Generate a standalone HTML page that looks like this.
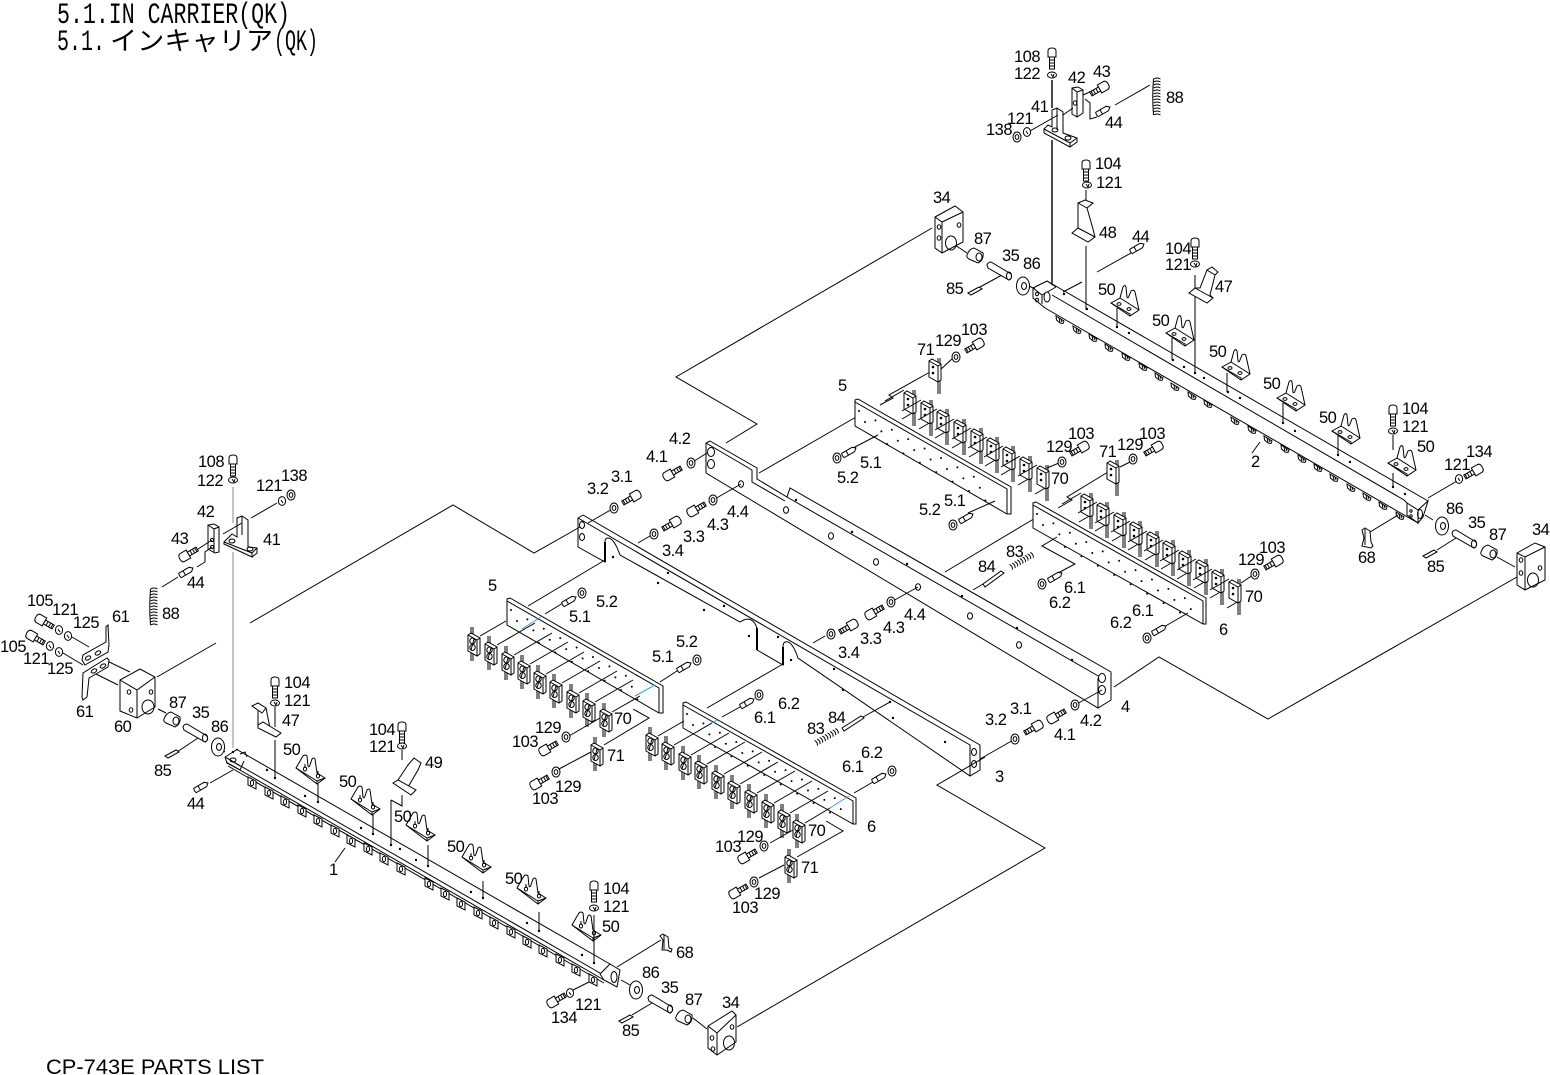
<!DOCTYPE html>
<html lang="en"><head><meta charset="utf-8"><title>5.1 IN CARRIER (QK)</title>
<style>
html,body{margin:0;padding:0;background:#fff}
svg{display:block}
.l{stroke:#000;fill:none;stroke-width:1}
.w{fill:#fff}
text{font-family:"Liberation Sans",sans-serif;font-size:16.5px;letter-spacing:-.5px;fill:#000;stroke:none}
.t{font-family:"Liberation Mono",monospace;font-size:30px;letter-spacing:0}
.k{font-family:"Noto Sans CJK JP",sans-serif;font-size:26px;letter-spacing:0}
.f{font-size:21px;letter-spacing:0}
.d{fill:none;stroke:#000;stroke-width:2;stroke-linecap:round;stroke-dasharray:0 18.9}
.g{fill:#000;stroke:none}
</style></head><body>
<svg width="1550" height="1075" viewBox="0 0 1550 1075" xmlns="http://www.w3.org/2000/svg">
<defs>
<g id="bolt"><path class="w" d="M-3-4.5Q-6-4.5-6 0Q-6 4.5-3 4.5H4V-4.5Z"/><path class="w" d="M4-2.3H14V2.3H4Z"/><path d="M7-2.3V2.3M10-2.3V2.3M12.5-2.3V2.3"/></g>
<g id="vbolt"><path class="w" d="M-4 2Q-4-1 0-1Q4-1 4 2V8H-4Z"/><path class="w" d="M-2.5 8H2.5V20H-2.5Z"/><path d="M-2.5 11H2.5M-2.5 14H2.5M-2.5 17H2.5"/></g>
<g id="stud"><path class="w" d="M-7-2.5H5L8 0L5 2.5H-7Q-8 0-7-2.5Z"/><path d="M-2-2.5V2.5"/></g>
<g id="nut"><ellipse class="w" cx="0" cy="0" rx="4" ry="5"/><ellipse cx="0" cy="0" rx="1.8" ry="2.4"/></g>
<g id="wash"><ellipse class="w" cx="0" cy="0" rx="3.6" ry="4.4"/><path d="M-1-1L1 2"/></g>
<g id="vwash"><ellipse class="w" cx="0" cy="0" rx="4.5" ry="3"/><path d="M-1-1L1 2L2-1"/></g>
<g id="b50"><path class="w" d="M0 0Q4-7 7-12Q9-14 11-12L12-2Q13 0 14-3L16-9Q18-11 19-9L21 5L29 10L21 16Z"/><path d="M0 0L21 13V16M21 13L29 10"/><ellipse cx="9" cy="1" rx="1.6" ry="2"/><ellipse cx="22" cy="8" rx="1.6" ry="2"/><path d="M9-4V0M22 3V7"/></g>
<g id="b50r"><path class="w" d="M0 0L9-5L12-16Q14-19 15-16L16-6Q17-4 18-7L20-12Q23-14 24-11L28 7L19 13Z"/><path d="M9-5L28 7M0 0L19 11V13"/><ellipse cx="8" cy="1" rx="2" ry="1.4"/><ellipse cx="18" cy="6" rx="2" ry="1.4"/></g>
<g id="c1"><path d="M3-8V0M5-8V-1M3 16V26M5 17V26"/><path class="w" d="M0 0L3-2L12 3V19L9 21L0 16Z"/><path d="M0 0L9 5L12 3M9 5V21"/><ellipse cx="4.5" cy="6" rx="2.7" ry="3"/><ellipse cx="4.5" cy="12.5" rx="2.7" ry="3"/><path d="M3 15L6 4"/></g>
<g id="c2"><path d="M-19 8L0-3M-2 26L10 19"/><path d="M9-3V3M11-3V3M9 20V33M11 20V33"/><path class="w" d="M0 0L3-2L12 3V19L9 21L0 16Z"/><path d="M0 0L9 5L12 3M9 5V21"/><circle class="g" cx="4" cy="6" r="1.3"/><circle class="g" cx="4" cy="12" r="1.3"/></g>
<g id="c3"><path d="M9-3V3M11-3V3M9 20V33M11 20V33"/><path class="w" d="M0 0L3-2L12 3V19L9 21L0 16Z"/><path d="M0 0L9 5L12 3M9 5V21"/><circle class="g" cx="4" cy="6" r="1.3"/><circle class="g" cx="4" cy="12" r="1.3"/></g>
<g id="p5"><path class="w" d="M0 0L3-1L156 87V114H152L0 26Z"/><path d="M0 2L152 89V114"/><path class="d" d="M4 11L135 86"/><path class="d" d="M10 22L141 97"/><path class="d" d="M32 44L135 103"/></g>
<g id="p6"><path class="w" d="M0 0L3-1L173 95V121H170L0 25Z"/><path d="M0 2L170 98V121"/><path class="d" d="M4 11L155 97"/><path class="d" d="M10 22L161 108"/><path class="d" d="M32 44L155 114"/></g>
<g id="t1"><path class="w" d="M-4-6L4-2V6L-4 2Z"/><ellipse cx="0" cy="0" rx="1.6" ry="2.6"/></g>
<g id="t2"><path class="w" d="M-4-3L4 2L3 4.5L0 4L-3.5 1Z"/><path d="M-1-1L0 3M1 0L2 3"/></g>
<g id="sp"><path d="M-3.5 0Q0-2 3.5 0M-3.5 3Q0 1 3.5 3M-3.5 6Q0 4 3.5 6M-3.5 9Q0 7 3.5 9M-3.5 12Q0 10 3.5 12M-3.5 15Q0 13 3.5 15M-3.5 18Q0 16 3.5 18M-3.5 21Q0 19 3.5 21M-3.5 24Q0 22 3.5 24M-3.5 27Q0 25 3.5 27M-3.5 30Q0 28 3.5 30M-3.5 33Q0 31 3.5 33M-3.5 36Q0 34 3.5 36"/><path d="M-3.5 0Q-5 18-3.5 36"/></g>
<g id="sph"><path d="M0-3Q2 0 0 3M3-3Q5 0 3 3M6-3Q8 0 6 3M9-3Q11 0 9 3M12-3Q14 0 12 3M15-3Q17 0 15 3M18-3Q20 0 18 3M21-3Q23 0 21 3M24-3Q26 0 24 3"/></g>
<g id="b87"><path class="w" d="M1 7Q3 1 8 0L17 5Q18 12 12 15L3 11Q0 9 1 7Z"/><ellipse cx="13" cy="9" rx="3" ry="4"/></g>
<g id="p35"><path class="w" d="M0 3Q1 0 4 0L24 12Q26 16 22 18L1 6Z"/><ellipse cx="22" cy="14" rx="2.5" ry="4"/></g>
<g id="p85"><path class="w" d="M0 6L11 0L14 2L3 8Z"/></g>
<g id="w86"><ellipse class="w" cx="0" cy="0" rx="6.5" ry="9"/><ellipse cx="1" cy="0" rx="2.5" ry="3.5"/></g>
</defs>

<g class="l">
<!-- rail 4 -->
<path d="M710 441L757 468V479L787 497L790 488L1111 672V700L1098 708L706 473V443L710 441"/>
<path d="M706 443L752 470V482L785 501M787 497L1100 677M1098 678V708"/>
<g class="w"><ellipse cx="711" cy="452" rx="3.5" ry="4.5"/><ellipse cx="711" cy="464" rx="3.5" ry="4.5"/><ellipse cx="1102" cy="678" rx="3.5" ry="4.5"/><ellipse cx="1102" cy="690" rx="3.5" ry="4.5"/></g>
<ellipse cx="741" cy="484" rx="2.5" ry="3.2"/><ellipse cx="786" cy="510" rx="2.5" ry="3.2"/><ellipse cx="831" cy="536" rx="2.5" ry="3.2"/><ellipse cx="876" cy="562" rx="2.5" ry="3.2"/><ellipse cx="918" cy="587" rx="2.5" ry="3.2"/><ellipse cx="970" cy="616" rx="2.5" ry="3.2"/><ellipse cx="1019" cy="645" rx="2.5" ry="3.2"/>
<g class="g"><circle cx="796" cy="500" r="1.2"/><circle cx="852" cy="532" r="1.2"/><circle cx="907" cy="564" r="1.2"/><circle cx="962" cy="596" r="1.2"/><circle cx="1017" cy="628" r="1.2"/><circle cx="1072" cy="660" r="1.2"/></g>
<!-- rail 3 -->
<path d="M583 515L980 745V770L970 776L798 658Q792 640 785 642Q783 643 783 647V665L757 650V628Q752 614 740 622L620 555Q614 538 608 538Q605 538 605 542V562L578 547V518L583 515"/>
<path d="M578 518L970 745V776"/>
<path stroke-width="2" d="M605 542V562M757 628V650M783 647V665"/>
<ellipse cx="582" cy="525" rx="2.5" ry="3.5"/><ellipse cx="582" cy="537" rx="2.5" ry="3.5"/><ellipse cx="974" cy="752" rx="2.5" ry="3.5"/><ellipse cx="974" cy="764" rx="2.5" ry="3.5"/>
<g class="g"><circle cx="613" cy="557" r="1.2"/><circle cx="658" cy="583" r="1.2"/><circle cx="668" cy="573" r="1.2"/><circle cx="704" cy="610" r="1.2"/><circle cx="724" cy="606" r="1.2"/><circle cx="749" cy="636" r="1.2"/><circle cx="778" cy="637" r="1.2"/><circle cx="791" cy="660" r="1.2"/><circle cx="834" cy="669" r="1.2"/><circle cx="843" cy="690" r="1.2"/><circle cx="890" cy="702" r="1.2"/><circle cx="893" cy="718" r="1.2"/><circle cx="945" cy="742" r="1.2"/></g>

<!-- assembly polylines -->
<path d="M932 228L676 377L757 424L726 443"/>
<path d="M759 473L863 413"/>
<path d="M945 572L1037 517"/>
<path d="M1114 687L1159 657L1268 719L1517 577"/>
<path d="M250 623L453 505L534 553L580 527"/>
<path d="M216 643L157 677"/>
<path d="M737 1027L1045 848L937 785L985 757"/>
<path d="M528 606L605 560M707 708L783 664"/>
<!-- plates -->
<use href="#p5" x="507" y="599"/>
<use href="#p6" x="683" y="703"/>
<use href="#p5" x="855" y="400"/>
<use href="#p6" x="1033" y="503"/>
<!-- blue marks -->
<path style="stroke:#3a9ad9" d="M522 629L541 617M635 696L655 685M698 731L717 720M830 808L849 796"/>

<!-- lower-left group leaders -->
<path d="M480 636L506 621M497 645L535 623M514 655L552 633M530 664L568 642M546 674L584 652M562 683L600 661M579 693L617 671M595 702L633 680M612 712L640 696"/>
<path d="M658 736L684 721M674 745L712 723M691 755L729 733M707 764L745 742M724 774L762 752M740 784L778 762M757 793L795 771M774 803L812 781M790 813L828 791M805 823L830 808"/>
<path d="M633 709L649 718L604 745M826 821L843 831L797 857"/>
<path d="M569 736L600 718M559 769L591 752M770 843L793 830M759 878L784 865"/>
<path d="M545 614L563 603M660 682L680 669M722 717L740 707M854 793L873 782"/>
<path d="M853 448L878 435M968 513L995 501M1058 573L1075 564L1042 546L1057 537M1162 628L1188 613"/>
<path d="M880 405L893 398L889 395L930 372M1058 508L1072 500L1067 497L1108 472"/>
<path d="M940 370L953 358M1120 467L1130 462M1047 468L1059 463M1241 583L1253 575"/>
<path d="M973 590L983 584M863 717L890 702"/>
<path d="M713 500L741 484M891 602L918 587M825 636L813 643M650 536L638 543M614 508L588 523M691 463L707 453M1015 739L980 759M1075 705L1102 690"/>
</g>

<g class="l">
<!-- blocks 70/71 -->
<use href="#c1" x="468" y="635"/><use href="#c1" x="485" y="644"/><use href="#c1" x="502" y="654"/><use href="#c1" x="518" y="663"/><use href="#c1" x="534" y="673"/><use href="#c1" x="550" y="682"/><use href="#c1" x="567" y="692"/><use href="#c1" x="583" y="701"/><use href="#c1" x="600" y="711"/><use href="#c1" x="591" y="745"/>
<use href="#c1" x="646" y="735"/><use href="#c1" x="662" y="744"/><use href="#c1" x="679" y="754"/><use href="#c1" x="695" y="763"/><use href="#c1" x="712" y="773"/><use href="#c1" x="728" y="783"/><use href="#c1" x="745" y="792"/><use href="#c1" x="762" y="802"/><use href="#c1" x="778" y="812"/><use href="#c1" x="793" y="822"/><use href="#c1" x="785" y="857"/>
<use href="#c2" x="904" y="393"/><use href="#c2" x="921" y="403"/><use href="#c2" x="937" y="412"/><use href="#c2" x="954" y="422"/><use href="#c2" x="971" y="431"/><use href="#c2" x="987" y="440"/><use href="#c2" x="1003" y="449"/><use href="#c2" x="1020" y="459"/><use href="#c2" x="1037" y="468"/><use href="#c3" x="929" y="361"/>
<use href="#c2" x="1081" y="496"/><use href="#c2" x="1097" y="505"/><use href="#c2" x="1114" y="515"/><use href="#c2" x="1130" y="524"/><use href="#c2" x="1147" y="534"/><use href="#c2" x="1163" y="543"/><use href="#c2" x="1179" y="553"/><use href="#c2" x="1196" y="562"/><use href="#c2" x="1212" y="572"/><use href="#c2" x="1229" y="582"/><use href="#c3" x="1107" y="463"/>

<!-- rail 1 -->
<path d="M236 749L610 964L620 970L617 987L604 980L600 974L610 964"/>
<path d="M225 757L600 973M226 762L604 980M228 766L604 983"/>
<path d="M225 757L238 749M247 757L245 752L240 754M225 757L227 763L240 770M227 758L240 766M244 761L240 770"/><ellipse cx="233" cy="760" rx="3" ry="2"/>
<ellipse class="w" cx="614" cy="977" rx="3" ry="5.5"/>
<g class="g"><circle cx="233" cy="752" r="1.2"/><circle cx="267" cy="770" r="1.2"/><circle cx="275" cy="778" r="1.2"/><circle cx="305" cy="796" r="1.2"/><circle cx="318" cy="802" r="1.2"/><circle cx="361" cy="828" r="1.2"/><circle cx="373" cy="834" r="1.2"/><circle cx="391" cy="845" r="1.2"/><circle cx="400" cy="849" r="1.2"/><circle cx="416" cy="860" r="1.2"/><circle cx="428" cy="866" r="1.2"/><circle cx="471" cy="892" r="1.2"/><circle cx="483" cy="898" r="1.2"/><circle cx="527" cy="923" r="1.2"/><circle cx="539" cy="931" r="1.2"/><circle cx="582" cy="955" r="1.2"/><circle cx="594" cy="963" r="1.2"/></g>
<use href="#t1" x="252" y="783"/><use href="#t1" x="269" y="793"/><use href="#t1" x="285" y="802"/><use href="#t1" x="302" y="811"/><use href="#t1" x="318" y="821"/><use href="#t1" x="335" y="831"/><use href="#t1" x="351" y="841"/><use href="#t1" x="368" y="849"/><use href="#t1" x="384" y="859"/><use href="#t1" x="401" y="869"/><use href="#t1" x="429" y="884"/><use href="#t1" x="445" y="894"/><use href="#t1" x="461" y="904"/><use href="#t1" x="478" y="913"/><use href="#t1" x="494" y="923"/><use href="#t1" x="511" y="932"/><use href="#t1" x="527" y="942"/><use href="#t1" x="543" y="951"/><use href="#t1" x="560" y="960"/><use href="#t1" x="576" y="970"/><use href="#t1" x="593" y="980"/>
<path d="M345 848L335 862"/>
<!-- brackets on rail 1 -->
<path d="M275 740V778M318 782V802M373 813V834M428 845V866M483 881V898M539 912V931M594 942V963M391 800V845M391 800L402 806V795"/>
<use href="#b50" x="296" y="768"/><use href="#b50" x="351" y="799"/><use href="#b50" x="406" y="825"/><use href="#b50" x="462" y="857"/><use href="#b50" x="517" y="888"/><use href="#b50" x="572" y="925"/>
<path class="w" d="M252 706L258 703L266 708L262 713Z"/><path d="M258 711V725M266 708L270 728"/><path class="w" d="M258 725L263 722L281 733L276 737L258 728Z"/>
<path d="M275 707V727M402 750V760M594 915V942"/>
<path class="w" d="M408 765L414 758L421 763L418 770L408 787H399L398 780Z"/><path class="w" d="M393 783L398 780L416 790L411 795Z"/>
<use href="#vbolt" x="275" y="678"/><use href="#vwash" x="275" y="703"/><use href="#vbolt" x="402" y="723"/><use href="#vwash" x="402" y="746"/><use href="#vbolt" x="594" y="882"/><use href="#vwash" x="594" y="908"/>

<!-- rail 2 -->
<path d="M1047 281L1428 501M1052 295L1404 500L1407 503M1045 308L1418 523"/>
<path d="M1033 288L1047 281L1056 287M1033 288L1042 295V304M1033 288V298L1045 308M1042 295L1056 287"/>
<ellipse class="w" cx="1047" cy="297" rx="3" ry="5"/><ellipse cx="1037" cy="294" rx="1.5" ry="1.8"/><ellipse cx="1037" cy="300" rx="1.5" ry="1.8"/>
<path class="w" d="M1407 503L1418 510V523L1407 515Z"/><path class="w" d="M1418 510L1428 501L1423 517L1418 523Z"/><ellipse cx="1420" cy="514" rx="2.5" ry="4.5"/><circle cx="1411" cy="511" r="1.2"/><circle cx="1411" cy="516" r="1.2"/>
<g class="g"><circle cx="1064" cy="294" r="1.2"/><circle cx="1087" cy="309" r="1.2"/><circle cx="1117" cy="327" r="1.2"/><circle cx="1129" cy="333" r="1.2"/><circle cx="1173" cy="360" r="1.2"/><circle cx="1184" cy="367" r="1.2"/><circle cx="1195" cy="373" r="1.2"/><circle cx="1204" cy="378" r="1.2"/><circle cx="1228" cy="392" r="1.2"/><circle cx="1240" cy="398" r="1.2"/><circle cx="1283" cy="423" r="1.2"/><circle cx="1295" cy="431" r="1.2"/><circle cx="1338" cy="455" r="1.2"/><circle cx="1350" cy="462" r="1.2"/><circle cx="1393" cy="487" r="1.2"/><circle cx="1405" cy="494" r="1.2"/></g>
<use href="#t2" x="1060" y="319"/><use href="#t2" x="1077" y="329"/><use href="#t2" x="1093" y="337"/><use href="#t2" x="1109" y="347"/><use href="#t2" x="1126" y="356"/><use href="#t2" x="1143" y="366"/><use href="#t2" x="1159" y="376"/><use href="#t2" x="1175" y="386"/><use href="#t2" x="1192" y="395"/><use href="#t2" x="1208" y="403"/><use href="#t2" x="1235" y="420"/><use href="#t2" x="1252" y="429"/><use href="#t2" x="1268" y="439"/><use href="#t2" x="1285" y="448"/><use href="#t2" x="1302" y="458"/><use href="#t2" x="1318" y="467"/><use href="#t2" x="1334" y="477"/><use href="#t2" x="1351" y="487"/><use href="#t2" x="1367" y="496"/><use href="#t2" x="1383" y="505"/><use href="#t2" x="1400" y="515"/>
<path d="M1260 442L1252 453"/>
<!-- brackets on rail 2 -->
<path d="M1117 308V328M1172 338V360M1195 275V373M1227 373V392M1283 403V423M1338 435V455M1393 435V450M1393 473V487M1086 190V240M1086 246V310"/>
<path stroke-width="1.4" d="M1052 80V108M1052 140V285"/>
<use href="#b50r" x="1111" y="303"/><use href="#b50r" x="1166" y="333"/><use href="#b50r" x="1222" y="367"/><use href="#b50r" x="1277" y="398"/><use href="#b50r" x="1332" y="431"/><use href="#b50r" x="1388" y="463"/>
<path class="w" d="M1189 293L1195 288L1200 288L1207 270L1212 267L1218 272L1215 275L1210 295L1213 298L1207 303Z"/><path d="M1195 288L1213 298M1207 270L1215 275"/>
<use href="#vbolt" x="1195" y="239"/><use href="#vwash" x="1195" y="264"/><use href="#vbolt" x="1393" y="406"/><use href="#vwash" x="1393" y="431"/>
<!-- 48 -->
<path class="w" d="M1078 203L1085 200L1093 203L1087 208L1093 229L1095 237L1088 242L1072 233L1078 228Z"/><path d="M1078 203L1087 208M1078 228L1095 237"/>
<use href="#vbolt" x="1086" y="161"/><use href="#vwash" x="1087" y="185"/>
<path d="M1063 292L1082 282M1131 253L1097 272"/>
<use href="#stud" transform="translate(1137 248) rotate(-30)"/>

<!-- top assembly -->
<use href="#vbolt" x="1052" y="49"/><use href="#vwash" x="1052" y="75"/>
<path class="w" d="M1044 129L1048 125L1052 127V110L1057 108L1063 112V133L1077 138V142L1070 147L1044 133Z"/><path d="M1057 108L1057 130M1044 129L1070 143L1077 138M1070 143V147"/><ellipse cx="1055" cy="130" rx="3" ry="2"/><ellipse cx="1068" cy="138" rx="3" ry="2"/>
<path class="w" d="M1072 88L1078 87L1083 90V113L1077 117L1072 114Z"/><path d="M1072 88L1077 92V117M1077 92L1083 90"/><ellipse cx="1075" cy="103" rx="1.7" ry="2.2"/>
<path d="M1030 131L1058 115M1063 115L1073 108M1085 99L1090 103V119L1097 117M1115 105L1150 85M1083 95L1094 90"/>
<use href="#bolt" transform="translate(1103 87) rotate(150)"/>
<use href="#stud" transform="translate(1103 111) rotate(-30)"/>
<use href="#sp" x="1157" y="79"/>
<use href="#wash" x="1027" y="132"/><use href="#nut" x="1017" y="137"/>
<!-- left assembly top -->
<path style="stroke:#888" d="M233 487V523M233 552V748"/>
<use href="#vbolt" x="233" y="456"/><use href="#vwash" x="233" y="480"/>
<path class="w" d="M224 542L232 534L237 537V518L242 516L248 520V547L257 548V553L252 557L224 544Z"/><path d="M242 516L242 535M224 542L252 553L257 548M252 553V557"/><ellipse cx="232" cy="541" rx="3" ry="2"/><ellipse cx="250" cy="549" rx="3" ry="2"/>
<path class="w" d="M208 525L214 524L219 527V552L215 553L208 549Z"/><path d="M208 525L214 529V553M214 529L219 527"/><circle cx="212" cy="540" r="1.6"/><circle cx="212" cy="547" r="1.6"/>
<path d="M223 534L242 523M251 518L277 503M195 551L212 540M197 567L205 562V552L212 547M162 587L178 577"/>
<use href="#bolt" transform="translate(185 556) rotate(-30)"/>
<use href="#stud" transform="translate(186 572) rotate(-30)"/>
<use href="#sp" x="154" y="589"/>
<use href="#wash" x="282" y="501"/><use href="#nut" x="291" y="495"/>
<!-- 60/61 -->
<path d="M105 660L130 672M94 673L118 685M72 637L89 647M63 653L83 665"/>
<path class="w" d="M106 627L108 625L109 645L108 652L85 665L82 660L83 655L106 642Z"/><ellipse cx="88" cy="658" rx="3" ry="1.8" transform="rotate(-30 88 658)"/><ellipse cx="98" cy="653" rx="3" ry="1.8" transform="rotate(-30 98 653)"/>
<path class="w" d="M83 673L107 658L109 660L108 667L89 678L87 697L83 700L82 697Z"/><ellipse cx="94" cy="671" rx="3" ry="1.8" transform="rotate(-30 94 671)"/><ellipse cx="103" cy="666" rx="3" ry="1.8" transform="rotate(-30 103 666)"/>
<path class="w" d="M120 680L140 669L155 677V707L137 718L120 711Z"/><path d="M120 680L137 690L155 677M137 690V718"/><ellipse cx="148" cy="707" rx="6" ry="7"/><ellipse cx="129" cy="692" rx="1.8" ry="2.2"/><ellipse cx="131" cy="710" rx="1.8" ry="2.2"/><ellipse cx="151" cy="692" rx="1.8" ry="2.2"/>
<use href="#bolt" transform="translate(41 620) rotate(30)"/><use href="#bolt" transform="translate(32 636) rotate(30)"/>
<use href="#wash" x="59" y="630"/><use href="#wash" x="68" y="636"/><use href="#wash" x="50" y="646"/><use href="#wash" x="59" y="652"/>
<!-- shafts -->
<path d="M158 709L166 713M177 752L198 738M212 745L225 752M210 783L233 770"/>
<use href="#b87" x="163" y="712"/><use href="#p35" x="183" y="724"/><use href="#w86" x="218" y="747"/><use href="#p85" x="165" y="750"/>
<use href="#stud" transform="translate(201 787) rotate(-30)"/>
<!-- lower right end -->
<path d="M693 1018L707 1029M621 980L630 985M632 1015L652 1003M573 990L589 982M617 967L661 940"/>
<use href="#w86" x="636" y="990"/><use href="#p35" x="648" y="995"/><use href="#b87" x="675" y="1010"/><use href="#p85" x="619" y="1015"/>
<path class="w" d="M708 1026L732 1011L736 1015V1042L717 1055L708 1048Z"/><path d="M708 1026L717 1033L736 1015M717 1033V1055"/><ellipse cx="729" cy="1043" rx="5.5" ry="7"/><ellipse cx="712" cy="1038" rx="1.8" ry="2.2"/><ellipse cx="713" cy="1049" rx="1.8" ry="2.2"/><ellipse cx="732" cy="1027" rx="1.8" ry="2.2"/>
<use href="#bolt" transform="translate(553 1002) rotate(-30)"/><use href="#wash" x="570" y="993"/>
<path class="w" d="M660 936L663 934L668 937L669 948L672 949L671 952L667 950L662 950L663 940Z"/><path d="M664 935V949"/>
<!-- upper left block 34 & shafts -->
<path d="M955 245L967 253M980 287L1002 275M1027 285L1035 289"/>
<path class="w" d="M935 217L955 206L963 212V242L942 253L935 248Z"/><path d="M935 217L942 222L963 212M942 222V253"/><ellipse cx="951" cy="243" rx="5.5" ry="7"/><ellipse cx="939" cy="227" rx="1.8" ry="2.2"/><ellipse cx="939" cy="238" rx="1.8" ry="2.2"/><ellipse cx="959" cy="225" rx="1.8" ry="2.2"/>
<use href="#b87" x="966" y="248"/><use href="#p35" x="987" y="262"/><use href="#w86" x="1023" y="286"/><use href="#p85" x="968" y="287"/>
<!-- right end -->
<path d="M1515 567L1497 557M1437 550L1456 538M1425 515L1433 520M1428 498L1457 481M1370 532L1398 515"/>
<use href="#w86" x="1442" y="526"/><use href="#p35" x="1452" y="530"/><use href="#b87" x="1480" y="545"/><use href="#p85" x="1423" y="550"/>
<path class="w" d="M1517 553L1535 543L1545 547V580L1525 590L1517 585Z"/><path d="M1517 553L1525 557L1545 547M1525 557V590"/><ellipse cx="1533" cy="580" rx="5.5" ry="7"/><ellipse cx="1521" cy="560" rx="1.8" ry="2.2"/><ellipse cx="1521" cy="573" rx="1.8" ry="2.2"/><ellipse cx="1540" cy="568" rx="1.8" ry="2.2"/>
<use href="#wash" x="1459" y="479"/><use href="#bolt" transform="translate(1477 470) rotate(150)"/>
<path class="w" d="M1362 530L1365 528L1370 531L1371 542L1373 546L1371 548L1362 546L1364 538Z"/><path d="M1365 529V545"/>

<!-- beam hardware -->
<use href="#bolt" transform="translate(635 496) rotate(150)"/><use href="#nut" x="614" y="508"/>
<use href="#bolt" transform="translate(669 475) rotate(-30)"/><use href="#nut" x="691" y="463"/>
<use href="#bolt" transform="translate(675 522) rotate(150)"/><use href="#nut" x="654" y="534"/>
<use href="#bolt" transform="translate(693 511) rotate(-30)"/><use href="#nut" x="713" y="500"/>
<use href="#bolt" transform="translate(852 625) rotate(150)"/><use href="#nut" x="831" y="634"/>
<use href="#bolt" transform="translate(871 614) rotate(-30)"/><use href="#nut" x="891" y="602"/>
<use href="#bolt" transform="translate(1037 726) rotate(150)"/><use href="#nut" x="1015" y="739"/>
<use href="#bolt" transform="translate(1053 718) rotate(-30)"/><use href="#nut" x="1075" y="705"/>
<!-- plate hardware -->
<use href="#nut" x="582" y="593"/><use href="#nut" x="697" y="660"/><use href="#nut" x="759" y="695"/><use href="#nut" x="892" y="771"/><use href="#nut" x="837" y="458"/><use href="#nut" x="953" y="525"/><use href="#nut" x="1042" y="584"/><use href="#nut" x="1147" y="638"/>
<use href="#stud" transform="translate(569 601) rotate(-30)"/><use href="#stud" transform="translate(684 667) rotate(-30)"/><use href="#stud" transform="translate(747 703) rotate(-30)"/><use href="#stud" transform="translate(879 778) rotate(-30)"/><use href="#stud" transform="translate(849 452) rotate(-30)"/><use href="#stud" transform="translate(966 518) rotate(-30)"/><use href="#stud" transform="translate(1055 577) rotate(-30)"/><use href="#stud" transform="translate(1159 630) rotate(-30)"/>
<use href="#bolt" transform="translate(545 750) rotate(-30)"/><use href="#bolt" transform="translate(536 784) rotate(-30)"/><use href="#bolt" transform="translate(744 858) rotate(-30)"/><use href="#bolt" transform="translate(735 893) rotate(-30)"/>
<use href="#nut" x="566" y="737"/><use href="#nut" x="556" y="772"/><use href="#nut" x="764" y="846"/><use href="#nut" x="754" y="882"/>
<use href="#bolt" transform="translate(978 344) rotate(150)"/><use href="#bolt" transform="translate(1083 447) rotate(150)"/><use href="#bolt" transform="translate(1157 447) rotate(150)"/><use href="#bolt" transform="translate(1277 561) rotate(150)"/>
<use href="#nut" x="956" y="357"/><use href="#nut" x="1062" y="462"/><use href="#nut" x="1133" y="459"/><use href="#nut" x="1255" y="574"/>
<!-- pins & springs -->
<path class="w" d="M983 584L1001 571L1004 573L985 587Z"/><path class="w" d="M842 728L861 716L864 718L844 731Z"/>
<use href="#sph" transform="translate(1011 567) rotate(-30)"/><use href="#sph" transform="translate(816 743) rotate(-30)"/>
</g>

<!-- title -->
<text class="t" x="57" y="23" textLength="233" lengthAdjust="spacingAndGlyphs">5.1.IN CARRIER(QK)</text>
<text class="t" x="57" y="50" textLength="48" lengthAdjust="spacingAndGlyphs">5.1.</text>
<text class="k" x="110" y="50" textLength="163" lengthAdjust="spacingAndGlyphs">インキャリア</text>
<text class="t" x="274" y="50" textLength="44" lengthAdjust="spacingAndGlyphs">(QK)</text>
<text class="f" x="46" y="1074" textLength="218" lengthAdjust="spacingAndGlyphs">CP-743E PARTS LIST</text>

<!-- labels -->
<text x="1014" y="62">108</text><text x="1014" y="79">122</text><text x="1068" y="83">42</text><text x="1093" y="77">43</text><text x="1166" y="103">88</text><text x="1031" y="112">41</text><text x="1007" y="124">121</text><text x="986" y="135">138</text><text x="1105" y="128">44</text>
<text x="1095" y="169">104</text><text x="1096" y="188">121</text><text x="1099" y="238">48</text><text x="1132" y="242">44</text><text x="933" y="203">34</text><text x="974" y="244">87</text><text x="1002" y="261">35</text><text x="1023" y="269">86</text><text x="946" y="294">85</text>
<text x="1165" y="254">104</text><text x="1165" y="270">121</text><text x="1215" y="292">47</text><text x="1098" y="295">50</text><text x="1152" y="326">50</text><text x="1209" y="357">50</text><text x="1263" y="389">50</text><text x="1319" y="423">50</text>
<text x="1402" y="414">104</text><text x="1402" y="432">121</text><text x="1417" y="452">50</text><text x="1466" y="457">134</text><text x="1444" y="470">121</text><text x="1251" y="467">2</text><text x="1446" y="514">86</text><text x="1468" y="528">35</text><text x="1489" y="540">87</text><text x="1532" y="535">34</text><text x="1358" y="563">68</text><text x="1427" y="572">85</text>
<text x="1259" y="553">103</text><text x="1238" y="565">129</text><text x="1245" y="602">70</text>
<text x="917" y="355">71</text><text x="935" y="346">129</text><text x="961" y="335">103</text><text x="838" y="391">5</text><text x="860" y="468">5.1</text><text x="837" y="483">5.2</text><text x="1068" y="439">103</text><text x="1046" y="452">129</text><text x="1139" y="439">103</text><text x="1117" y="450">129</text><text x="1099" y="457">71</text><text x="1051" y="484">70</text><text x="944" y="506">5.1</text><text x="919" y="515">5.2</text>
<text x="978" y="572">84</text><text x="1006" y="557">83</text><text x="1064" y="593">6.1</text><text x="1049" y="608">6.2</text><text x="1132" y="616">6.1</text><text x="1110" y="628">6.2</text><text x="1219" y="635">6</text>
<text x="669" y="444">4.2</text><text x="646" y="462">4.1</text><text x="611" y="482">3.1</text><text x="587" y="494">3.2</text><text x="727" y="517">4.4</text><text x="707" y="530">4.3</text><text x="683" y="542">3.3</text><text x="662" y="556">3.4</text>
<text x="596" y="607">5.2</text><text x="569" y="622">5.1</text><text x="676" y="647">5.2</text><text x="652" y="662">5.1</text><text x="904" y="620">4.4</text><text x="883" y="633">4.3</text><text x="860" y="644">3.3</text><text x="838" y="658">3.4</text>
<text x="488" y="591">5</text><text x="614" y="724">70</text><text x="535" y="733">129</text><text x="512" y="747">103</text><text x="607" y="761">71</text><text x="555" y="792">129</text><text x="532" y="804">103</text>
<text x="778" y="709">6.2</text><text x="754" y="723">6.1</text><text x="828" y="723">84</text><text x="807" y="734">83</text><text x="861" y="758">6.2</text><text x="842" y="772">6.1</text><text x="867" y="832">6</text><text x="808" y="836">70</text><text x="737" y="842">129</text><text x="715" y="852">103</text><text x="801" y="873">71</text><text x="754" y="899">129</text><text x="732" y="913">103</text>
<text x="995" y="782">3</text><text x="1121" y="712">4</text><text x="1010" y="714">3.1</text><text x="985" y="725">3.2</text><text x="1054" y="740">4.1</text><text x="1080" y="726">4.2</text>
<text x="198" y="467">108</text><text x="197" y="486">122</text><text x="281" y="481">138</text><text x="256" y="491">121</text><text x="197" y="517">42</text><text x="171" y="544">43</text><text x="263" y="545">41</text><text x="187" y="588">44</text><text x="162" y="619">88</text>
<text x="27" y="606">105</text><text x="52" y="615">121</text><text x="73" y="628">125</text><text x="112" y="622">61</text><text x="0" y="652">105</text><text x="23" y="664">121</text><text x="47" y="674">125</text><text x="76" y="717">61</text><text x="114" y="732">60</text><text x="169" y="708">87</text><text x="192" y="718">35</text><text x="211" y="732">86</text><text x="154" y="776">85</text><text x="187" y="809">44</text>
<text x="284" y="688">104</text><text x="284" y="706">121</text><text x="282" y="726">47</text><text x="283" y="755">50</text><text x="339" y="787">50</text><text x="369" y="735">104</text><text x="369" y="752">121</text><text x="425" y="768">49</text><text x="394" y="822">50</text><text x="447" y="852">50</text><text x="505" y="884">50</text>
<text x="603" y="894">104</text><text x="603" y="912">121</text><text x="602" y="932">50</text><text x="329" y="875">1</text><text x="676" y="958">68</text><text x="642" y="978">86</text><text x="661" y="993">35</text><text x="685" y="1005">87</text><text x="722" y="1008">34</text><text x="575" y="1010">121</text><text x="551" y="1023">134</text><text x="622" y="1036">85</text>
</svg>
</body></html>
